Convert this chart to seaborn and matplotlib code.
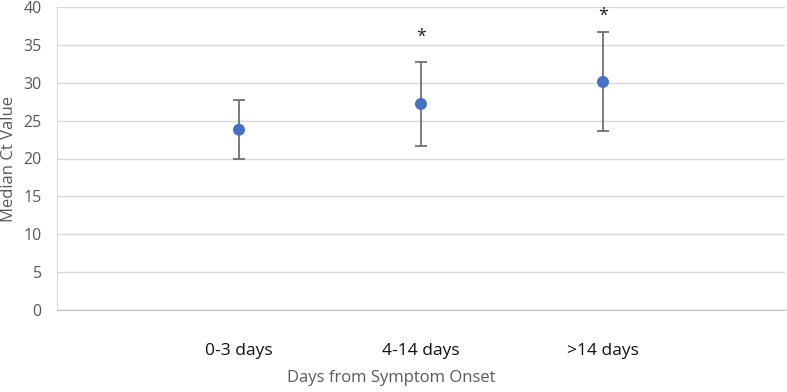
import numpy as np
import pandas as pd
import matplotlib
matplotlib.use("Agg")
import matplotlib.pyplot as plt
import seaborn as sns

# values
categories = ["0-3 days", "4-14 days", ">14 days"]
median_ct = [23.8, 27.2, 30.1]
err_low = [20.0, 21.7, 23.6]
err_high = [27.7, 32.7, 36.7]
significant = [False, True, True]
star_y = [None, 36.0, 38.8]


def main():
    sns.set_style("white")
    plt.rcParams['font.family'] = ['Open Sans', 'DejaVu Sans']

    df = pd.DataFrame({
        'pos': np.arange(1, len(categories) + 1),
        'group': categories,
        'median': median_ct,
        'low': err_low,
        'high': err_high,
    })

    fig = plt.figure(figsize=(7.87, 3.92), dpi=100)
    ax = fig.add_axes([57 / 787, 1 - 310 / 392, (785 - 57) / 787, (310 - 7) / 392])

    # error bars first, points on top
    ax.errorbar(df['pos'], df['median'],
                yerr=[df['median'] - df['low'], df['high'] - df['median']],
                fmt='none', ecolor='#707070', elinewidth=1.3, capsize=4, capthick=1.3, zorder=2)
    sns.scatterplot(data=df, x='pos', y='median', color='#4472C4', s=75,
                    edgecolor='none', ax=ax, zorder=3)

    for p, sig, sy in zip(df['pos'], significant, star_y):
        if sig:
            ax.text(p, sy, '*', ha='center', va='center', fontsize=13, color='#222222')

    ax.set_xlim(0, len(categories) + 1)
    ax.set_ylim(0, 40)
    ax.set_yticks(np.arange(0, 41, 5))
    ax.yaxis.grid(True, color='#d9d9d9', linewidth=1)
    ax.set_axisbelow(True)

    ax.set_xticks(np.arange(0, len(categories) + 2))
    ax.set_xticklabels([''] + categories + [''])
    ax.tick_params(axis='x', length=5, color='#bfbfbf', pad=19, labelsize=12.5, labelcolor='#111111')
    ax.tick_params(axis='y', length=0, pad=11, labelsize=11.5, labelcolor='#595959')

    for s in ['top', 'right']:
        ax.spines[s].set_visible(False)
    ax.spines['bottom'].set_color('#bfbfbf')
    ax.spines['left'].set_color('#d9d9d9')

    ax.set_xlabel('')
    ax.set_ylabel('')
    fig.text(9 / 787, 1 - 159 / 392, 'Median Ct Value', ha='center', va='center',
             rotation=90, fontsize=12, color='#595959')
    fig.text(391 / 787, 1 - 378 / 392, 'Days from Symptom Onset', ha='center', va='center',
             fontsize=12, color='#595959')

    fig.savefig('out.png', dpi=100)
    plt.close(fig)


if __name__ == "__main__":
    main()
